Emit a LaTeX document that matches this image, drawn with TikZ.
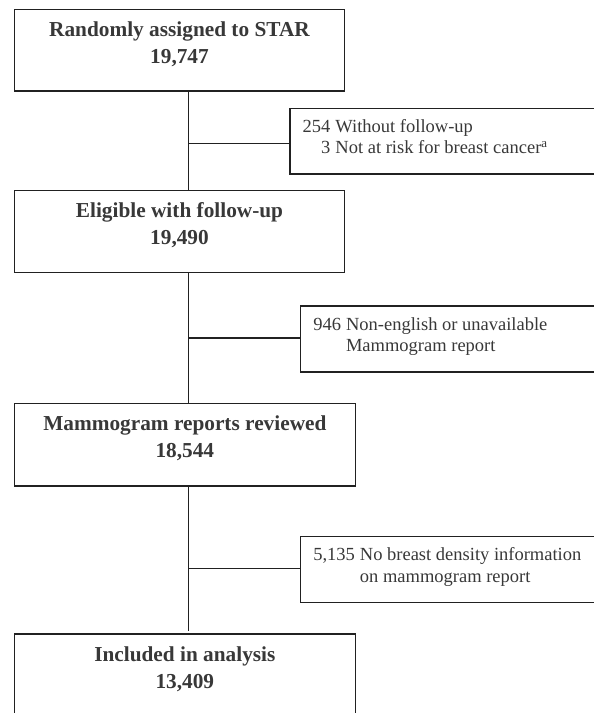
\documentclass[tikz,border=0pt]{standalone}
\usepackage{fontspec}
\setmainfont{Liberation Serif}
\usetikzlibrary{calc}
\definecolor{ink}{gray}{0.22}
\definecolor{lineink}{gray}{0.13}
\tikzset{
  mainbox/.style={draw=lineink, line width=1.5pt, rectangle, inner sep=0pt},
  sidebox/.style={draw=lineink, line width=1.5pt, rectangle, inner sep=0pt},
  maintext/.style={text=ink, font=\fontsize{21.3}{27}\selectfont\bfseries, align=center, inner sep=0pt, anchor=base},
  sidetext/.style={text=ink, font=\fontsize{18.5}{21.5}\selectfont, inner sep=0pt, anchor=base west},
  link/.style={draw=lineink, line width=1.5pt}
}
\begin{document}
\begin{tikzpicture}[x=1pt,y=-1pt]
\useasboundingbox (0,0) rectangle (594,713);
\begin{scope}
\clip (0,0) rectangle (594,713);
% main boxes
\node[mainbox, minimum width=330.3pt, minimum height=81.7pt] (b1) at (179.5,50.15) {};
\node[mainbox, minimum width=330.3pt, minimum height=81.6pt] (b2) at (179.5,231.5) {};
\node[mainbox, minimum width=340.9pt, minimum height=82.3pt] (b3) at (184.85,444.85) {};
\node[mainbox, minimum width=340.9pt, minimum height=82pt] (b4) at (184.85,675) {};
% main texts (anchor base = baseline of the last line)
\node[maintext] (t1) at ($(b1.north)+(0,54.7)$) {Randomly assigned to STAR\\19,747};
\node[maintext] (t2) at ($(b2.north)+(0,54.5)$) {Eligible with follow-up\\19,490};
\node[maintext] (t3) at ($(b3.north)+(0,55)$) {Mammogram reports reviewed\\18,544};
\node[maintext] (t4) at ($(b4.north)+(0,55)$) {Included in analysis\\13,409};
% side boxes
\node[sidebox, anchor=north west, minimum width=320pt, minimum height=65.6pt] (s1) at (289,107.7) {};
\node[sidebox, anchor=north west, minimum width=320pt, minimum height=66pt] (s2) at (299.6,305.3) {};
\node[sidebox, anchor=north west, minimum width=320pt, minimum height=66pt] (s3) at (299.6,535.7) {};
% side texts
\node[sidetext] (st1) at ($(s1.north west)+(13.5,24.5)$) {\begin{tabular}[t]{@{}r@{\hspace{5pt}}l@{}}254 & Without follow-up\\3 & Not at risk for breast cancer\textsuperscript{a}\end{tabular}};
\node[sidetext] (st2) at ($(s2.north west)+(13.5,24.7)$) {\begin{tabular}[t]{@{}r@{\hspace{5pt}}l@{}}946 & Non-english or unavailable\\ & Mammogram report\end{tabular}};
\node[sidetext] (st3) at ($(s3.north west)+(13.5,25)$) {\begin{tabular}[t]{@{}r@{\hspace{5pt}}l@{}}5,135 & No breast density information\\ & on mammogram report\end{tabular}};
% connectors
\coordinate (vx) at (188.7,0);
\coordinate (j1) at (188.7,143.5);
\coordinate (j2) at (188.7,338);
\coordinate (j3) at (188.7,568.7);
\draw[link] (b1.south -| vx) -- (b2.north -| vx);
\draw[link] (b2.south -| vx) -- (b3.north -| vx);
\draw[link, shorten >=2.5pt] (b3.south -| vx) -- (b4.north -| vx);
\draw[link] (j1) -- (j1 -| s1.west);
\draw[link] (j2) -- (j2 -| s2.west);
\draw[link] (j3) -- (j3 -| s3.west);
\end{scope}
\end{tikzpicture}
\end{document}
